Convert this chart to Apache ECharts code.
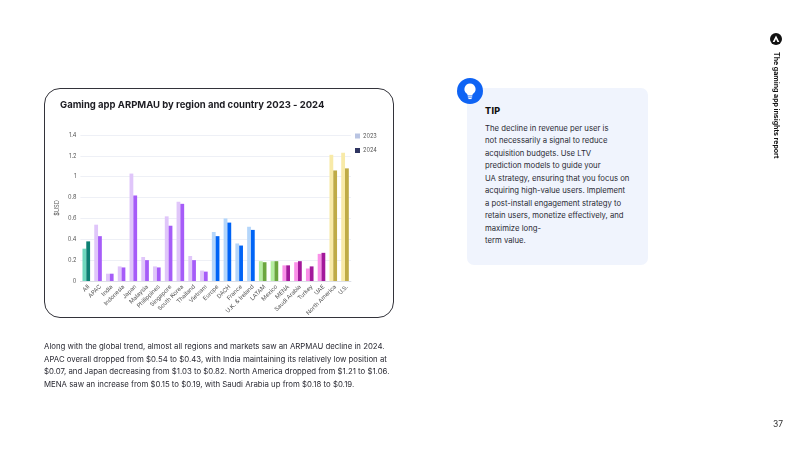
<!DOCTYPE html>
<html><head><meta charset="utf-8">
<script src="https://cdn.jsdelivr.net/npm/echarts@6/dist/echarts.min.js"></script>
<style>
html,body{margin:0;padding:0;width:800px;height:450px;background:#fff;overflow:hidden;font-family:Inter,"Noto Sans",sans-serif;color:#2a2a33}
#card{position:absolute;left:44px;top:88px;width:348px;height:228px;border:1.2px solid #33333a;border-radius:16px}
#chart{position:absolute;left:0;top:0;width:800px;height:450px}
#para{position:absolute;left:44px;top:340px;width:360px;font-size:7.8px;line-height:12.6px;white-space:pre}
#tip{position:absolute;left:467px;top:88px;width:181px;height:177px;background:#f0f4fd;border-radius:7px}
#tipT{position:absolute;left:485px;top:105px;font-size:9px;font-weight:800;color:#111;letter-spacing:.3px}
#tipB{position:absolute;left:485px;top:123px;font-size:7.72px;line-height:12.45px;white-space:pre}
#side{position:absolute;left:770.5px;top:52px;font-size:7px;font-weight:700;color:#111;writing-mode:vertical-rl;white-space:pre;line-height:10px}
#num{position:absolute;left:773px;top:419px;font-size:8.5px;color:#333}
svg{position:absolute}
</style></head><body>
<div id="card"></div>
<div id="chart"></div>
<div id="para">Along with the global trend, almost all regions and markets saw an ARPMAU decline in 2024.
APAC overall dropped from $0.54 to $0.43, with India maintaining its relatively low position at
$0.07, and Japan decreasing from $1.03 to $0.82. North America dropped from $1.21 to $1.06.
MENA saw an increase from $0.15 to $0.19, with Saudi Arabia up from $0.18 to $0.19.</div>
<div id="tip"></div>
<svg style="left:457px;top:78px" width="26" height="26" viewBox="0 0 26 26">
<circle cx="13" cy="13" r="13" fill="#0e63f4"/>
<path d="M13 5.5a5.6 5.6 0 0 0-3.4 10c.8.7 1 1.2 1 2h4.8c0-.8.2-1.3 1-2A5.6 5.6 0 0 0 13 5.5z" fill="#fff"/>
<rect x="10.8" y="18.3" width="4.4" height="1.2" fill="#fff"/><rect x="11.4" y="20" width="3.2" height="1.1" fill="#fff"/>
</svg>
<div id="tipT">TIP</div>
<div id="tipB">The decline in revenue per user is
not necessarily a signal to reduce
acquisition budgets. Use LTV
prediction models to guide your
UA strategy, ensuring that you focus on
acquiring high-value users. Implement
a post-install engagement strategy to
retain users, monetize effectively, and
maximize long-
term value.</div>
<svg style="left:770px;top:33px" width="12" height="12" viewBox="0 0 12 12">
<circle cx="6" cy="6" r="6" fill="#111"/><path d="M6 2.5 9.3 9H7.4L6 6 4.6 9H2.7z" fill="#fff"/>
</svg>
<div id="side">The gaming app insights report</div>
<div id="num">37</div>
<script>
var categories = ["All","APAC","India","Indonesia","Japan","Malaysia","Philippines","Singapore","South Korea","Thailand","Vietnam","Europe","DACH","France","U.K. & Ireland","LATAM","Mexico","MENA","Saudi Arabia","Turkey","UAE","North America","U.S."];
var values2023 = [0.31,0.54,0.07,0.14,1.03,0.23,0.14,0.62,0.76,0.24,0.10,0.47,0.60,0.36,0.52,0.19,0.19,0.15,0.18,0.12,0.26,1.21,1.23];
var values2024 = [0.38,0.43,0.07,0.13,0.82,0.20,0.13,0.53,0.74,0.20,0.09,0.43,0.56,0.34,0.49,0.18,0.19,0.15,0.19,0.14,0.27,1.06,1.08];
var yTicks = {min:0,max:1.4,interval:0.2};
var lightColors = ["#6fd8be","#e0c6fa","#e0c6fa","#e0c6fa","#e0c6fa","#e0c6fa","#e0c6fa","#e0c6fa","#e0c6fa","#e0c6fa","#e0c6fa","#b4d6fb","#b4d6fb","#b4d6fb","#b4d6fb","#b6eea2","#b6eea2","#fa90e8","#fa90e8","#fa90e8","#fa90e8","#f8eaa8","#f8eaa8"];
var darkColors = ["#0d8073","#a65cf8","#a65cf8","#a65cf8","#a65cf8","#a65cf8","#a65cf8","#a65cf8","#a65cf8","#a65cf8","#a65cf8","#0064f6","#0064f6","#0064f6","#0064f6","#6ba63e","#6ba63e","#a3189b","#a3189b","#a3189b","#a3189b","#bfab46","#bfab46"];
function paint(vals,cols){return vals.map(function(v,i){return {value:v,itemStyle:{color:cols[i]}};});}
var chart = echarts.init(document.getElementById('chart'),null,{renderer:'canvas',width:800,height:450});
var font='Inter,"Noto Sans",sans-serif';
chart.setOption({
 animation:false,
 backgroundColor:'transparent',
 title:{text:'Gaming app ARPMAU by region and country 2023 - 2024',left:60,top:100,padding:0,
  textStyle:{fontFamily:font,fontSize:9.5,fontWeight:700,color:'#1c1c22'}},
 grid:{left:80.4,top:135,width:270.5,height:146,containLabel:false},
 legend:{orient:'vertical',left:355,top:133,itemWidth:5,itemHeight:5,itemGap:8.5,padding:0,
  data:['2023','2024'],icon:'rect',textStyle:{fontFamily:font,fontSize:5.6,color:'#555',padding:[0,0,0,-2]}},
 xAxis:{type:'category',data:categories,axisTick:{show:false},
  axisLine:{lineStyle:{color:'#dcdee6',width:1}},
  axisLabel:{rotate:45,interval:0,fontFamily:font,fontSize:5.8,color:'#555',margin:7,padding:[7,-3,0,0]}},
 yAxis:{type:'value',min:yTicks.min,max:yTicks.max,interval:yTicks.interval,name:'$USD',nameLocation:'middle',nameGap:20,nameRotate:90,
  nameTextStyle:{fontFamily:font,fontSize:5.6,color:'#555'},
  axisLine:{show:false},axisTick:{show:false},
  axisLabel:{fontFamily:font,fontSize:5.6,color:'#555',margin:4},
  splitLine:{lineStyle:{color:'#eef0f6',width:1}}},
 series:[
  {name:'2023',type:'bar',data:paint(values2023,lightColors),barWidth:3.8,barGap:0,itemStyle:{color:'#b9c4e2'}},
  {name:'2024',type:'bar',data:paint(values2024,darkColors),barWidth:3.8,barGap:0,itemStyle:{color:'#2f3561'}}
 ]
});
</script>
</body></html>
